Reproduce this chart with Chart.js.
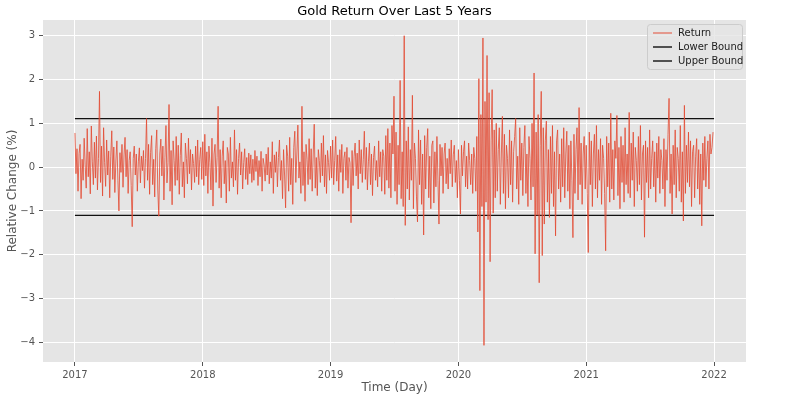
<!DOCTYPE html>
<html lang="en">
<head>
  <meta charset="UTF-8">
  <title>Gold Return Over Last 5 Years</title>
  <style>
    body { margin: 0; background: #fff; }
  </style>
  <script src="https://cdn.jsdelivr.net/npm/chart.js"></script>
</head>
<body>
  <canvas id="goldChart" width="789" height="400"></canvas>

  <script>
    // Daily relative change (%), one array per year
    const years = [2017, 2018, 2019, 2020, 2021];

    const returns2017 = [
      0.78, -0.15, 0.42, -0.55, 0.31, 0.52, -0.72, 0.18, -0.3, 0.66, 0.05, -0.48, 0.88, -0.22, 0.35, -0.61, 0.94, 0.12, -0.4, 0.57, -0.25, 0.71, -0.52, 0.2, 1.73,
      -0.35, 0.48, -0.66, 0.9, 0.1, -0.44, 0.62, -0.18, 0.37, -0.7, 0.25, 0.83, -0.28, 0.46, -0.58, 0.14, 0.6, -0.3, -1.0, 0.33, -0.12, 0.52, -0.46, 0.28, 0.68,
      -0.22, 0.4, -0.6, 0.15, 0.35, -0.42, -1.36, 0.2, 0.48, -0.18, 0.3, -0.55, 0.12, 0.44, -0.36, 0.25, -0.08, 0.38, -0.48, 0.2, 1.11, -0.3, 0.52, -0.62, 0.34,
      0.72, -0.4, 0.18, -0.68, 0.42, 0.85, -0.5, -1.12, 0.3, 0.64, -0.2, 0.48, -0.75, 0.22, 0.95, -0.36, 0.1, 1.43, -0.55, 0.38, -0.86, 0.6, 0.15, -0.42, 0.7,
      -0.3, 0.5, -0.62, 0.26, 0.78, -0.45, 0.12, -0.7, 0.55, 0.2, -0.38, 0.66, -0.15, 0.4, -0.52, 0.3, 0.08, -0.35, 0.48, -0.22, 0.62, -0.4, 0.18, 0.45, -0.28
    ];
    const returns2018 = [
      0.58, -0.42, 0.75, -0.2, 0.35, -0.6, 0.48, 0.1, -0.52, 0.66, -0.89, 0.3, 0.52, -0.35, 0.22, 1.39, -0.48, 0.4, -0.7, 0.25, 0.6, -0.38, 0.15, -0.82, 0.45,
      0.3, -0.55, 0.68, -0.25, 0.12, -0.45, 0.85, -0.3, 0.4, -0.62, 0.2, 0.55, -0.18, 0.35, -0.5, 0.1, 0.42, -0.28, 0.22, -0.4, 0.32, -0.15, 0.28, -0.35, 0.18,
      -0.3, 0.38, -0.1, 0.25, -0.42, 0.15, -0.22, 0.36, -0.55, 0.2, 0.05, -0.32, 0.3, -0.18, 0.45, -0.38, 0.12, -0.25, 0.58, -0.6, 0.28, -0.12, 0.35, -0.45, 0.22,
      0.62, -0.3, 0.15, -0.72, 0.4, -0.18, -0.93, 0.5, 0.25, -0.55, 0.68, -0.4, 0.2, -0.85, 0.45, 0.82, -0.35, 0.3, 0.96, -0.25, 0.12, -0.6, 1.39, -0.42, 0.35,
      -0.78, 0.52, 0.18, -0.4, 0.65, -0.28, 0.42, -0.55, 0.3, 0.98, -0.48, 0.22, -0.65, 0.4, 0.15, -0.35, 0.55, -0.2, 0.72, -0.45, 0.28, -0.6, 0.38, 0.1, -0.3
    ];
    const returns2019 = [
      0.48, -0.25, 0.62, -0.4, 0.15, 0.7, -0.32, 0.28, -0.55, 0.4, -0.12, 0.52, -0.6, 0.2, 0.35, -0.3, 0.45, -0.48, 0.22, 0.1, -1.27, 0.38, -0.42, 0.25, 0.55,
      -0.2, 0.32, -0.5, 0.62, -0.15, 0.4, -0.35, 0.18, 0.82, -0.28, 0.45, -0.52, 0.12, 0.55, -0.4, 0.3, -0.65, 0.22, 0.48, -0.3, 0.15, -0.45, 0.6, -0.22, 0.35,
      -0.55, 0.4, 0.25, -0.62, 0.72, -0.3, 0.88, -0.48, 0.55, -0.7, 0.95, 0.3, 1.62, -0.55, 0.8, -0.85, 0.5, -0.4, 1.98, -0.72, 0.35, -0.9, 3.0, -1.33, 0.6,
      -0.5, 0.92, -0.75, 0.4, -0.3, 1.64, -0.95, 0.55, 0.2, -0.68, -1.25, 0.85, -0.4, 0.62, -0.85, 0.3, -1.55, 0.72, -0.5, 0.45, 0.88, -0.7, 0.25, -0.95, 0.5,
      0.6, -0.82, 0.35, -0.45, 0.7, -0.3, -1.3, 0.52, -0.2, 0.45, -0.6, 0.3, 0.55, -0.38, 0.2, -0.5, 0.42, -0.15, 0.62, -0.45, 0.28, 0.5, -0.35, 0.15, -0.7
    ];
    const returns2020 = [
      0.4, -0.3, -1.07, 0.5, -0.2, 0.35, 0.6, -0.45, 0.25, -0.5, 0.55, 0.15, -0.4, 0.3, -0.6, 0.45, 0.2, -0.55, 0.7, -1.48, 2.02, -2.82, 1.2, -0.9, 2.95,
      -4.07, 1.5, -0.8, 2.55, -1.2, 1.7, -2.16, 0.6, 1.77, -1.05, 0.85, -0.7, 1.0, -0.55, 0.4, 0.9, -0.85, 0.3, 1.16, -0.6, 0.75, -0.95, 0.5, 0.2, -0.7,
      0.85, -0.4, 0.6, -0.8, 0.35, 0.7, 1.11, -0.5, 0.25, -0.85, 0.9, -0.3, 0.55, -0.65, 0.45, 0.95, -0.6, 0.3, -0.9, 0.7, 0.2, -0.75, 1.0, -0.45, 2.15,
      -1.98, 0.8, -1.1, 1.2, -2.64, 0.5, 1.73, -2.02, 0.9, -1.3, 0.6, 1.05, -0.8, 0.4, -1.15, 0.7, -0.6, 0.95, -0.9, 0.35, -1.57, 0.6, 0.85, -0.5, 0.3,
      -0.8, 0.65, -0.45, 0.9, -0.7, 0.3, 0.82, -0.55, 0.5, -0.95, 0.6, -0.3, -1.61, 0.75, -0.6, 0.4, 0.9, -0.75, 1.36, -0.4, 0.55, -0.85, 0.3, 0.7, -0.5
    ];
    const returns2021 = [
      0.5, -0.6, -1.95, 0.8, -0.4, 0.6, -0.9, 0.3, 0.75, -0.5, 0.95, -0.7, 0.4, -0.3, 0.65, -0.85, 0.5, 0.2, -0.6, -1.91, 0.7, -0.45, 0.55, -0.8, 1.23,
      -0.5, 0.4, -0.75, 0.6, 0.2, 1.18, -0.65, 0.45, -0.95, 0.7, -0.35, 0.5, -0.8, 0.9, -0.4, 0.3, -0.6, 1.25, -0.7, 0.55, -0.3, 0.8, -0.9, 0.45, 0.15,
      -0.55, 0.7, -0.4, 0.95, -0.75, 0.3, 0.5, -1.6, 0.6, -0.35, 0.45, -0.7, 0.85, -0.5, 0.2, 0.6, -0.45, 0.35, -0.8, 0.55, -0.25, 0.7, -0.6, 0.4, 0.15,
      -0.5, 0.65, -0.9, 0.4, -0.3, 0.75, 1.57, -0.6, 0.3, -1.07, 0.5, -0.4, 0.85, -0.7, 0.45, 0.2, -0.55, 0.95, -0.8, 0.35, -1.23, 1.41, -0.6, 0.5, -0.35,
      0.8, -0.45, 0.6, -0.9, 0.35, 0.5, -0.7, 0.25, 0.65, -0.5, 0.4, -0.85, 0.3, -1.34, 0.55, -0.3, 0.7, -0.45, 0.2, 0.6, -0.5, 0.75, 0.3, 0.45, 0.8
    ];

    const upperBound = 1.11;
    const lowerBound = -1.1;
    const xTicks = [2017, 2018, 2019, 2020, 2021, 2022];
    const yTicks = [-4, -3, -2, -1, 0, 1, 2, 3];

    // spread each year's days evenly over that year
    const yearly = [returns2017, returns2018, returns2019, returns2020, returns2021];
    const returnPoints = [];
    yearly.forEach((arr, k) => {
      arr.forEach((v, i) => returnPoints.push({ x: years[k] + i / arr.length, y: v }));
    });
    const firstDay = years[0];
    const lastDay = years[years.length - 1] + 1;

    const FONT = "'DejaVu Sans', sans-serif";
    const TITLE = 'Gold Return Over Last 5 Years';

    // grey panel behind the plot, like the ggplot style
    const panelBg = {
      id: 'panelBg',
      beforeDraw(chart) {
        const { ctx, chartArea: a } = chart;
        ctx.save();
        ctx.fillStyle = '#E5E5E5';
        ctx.fillRect(a.left, a.top, a.right - a.left, a.bottom - a.top);
        ctx.restore();
      }
    };

    // title centred over the plot area, and legend box in its upper right corner
    const cornerLegend = {
      id: 'cornerLegend',
      afterDraw(chart) {
        const { ctx, chartArea: a } = chart;
        ctx.save();
        ctx.fillStyle = '#000';
        ctx.font = '13px ' + FONT;
        ctx.textAlign = 'center';
        ctx.textBaseline = 'alphabetic';
        ctx.fillText(TITLE, (a.left + a.right) / 2, a.top - 5);

        const w = 95, h = 45;
        const x0 = a.right - 4 - w, y0 = a.top + 4;
        ctx.fillStyle = 'rgba(229,229,229,0.8)';
        ctx.strokeStyle = '#CCCCCC';
        ctx.lineWidth = 1;
        ctx.beginPath();
        ctx.roundRect(x0 + 0.5, y0 + 0.5, w, h, 3);
        ctx.fill();
        ctx.stroke();
        ctx.font = '10px ' + FONT;
        ctx.textAlign = 'left';
        ctx.textBaseline = 'middle';
        chart.data.datasets.forEach((ds, i) => {
          const yy = y0 + 9 + i * 14;
          ctx.strokeStyle = ds.legendColor || ds.borderColor;
          ctx.lineWidth = 1.4;
          ctx.beginPath();
          ctx.moveTo(x0 + 6, yy);
          ctx.lineTo(x0 + 25, yy);
          ctx.stroke();
          ctx.fillStyle = '#222';
          ctx.fillText(ds.label, x0 + 31, yy);
        });
        ctx.restore();
      }
    };

    const ctx = document.getElementById('goldChart').getContext('2d');
    const goldChart = new Chart(ctx, {
      type: 'line',
      data: {
        datasets: [{
          label: 'Return',
          data: returnPoints,
          borderColor: 'rgba(226, 74, 51, 0.9)',
          legendColor: 'rgba(226, 74, 51, 0.7)',
          borderWidth: 0.9,
          pointRadius: 0,
          tension: 0
        }, {
          label: 'Lower Bound',
          data: [{ x: firstDay, y: lowerBound }, { x: lastDay, y: lowerBound }],
          borderColor: '#111',
          borderWidth: 1.3,
          pointRadius: 0
        }, {
          label: 'Upper Bound',
          data: [{ x: firstDay, y: upperBound }, { x: lastDay, y: upperBound }],
          borderColor: '#111',
          borderWidth: 1.3,
          pointRadius: 0
        }]
      },
      options: {
        responsive: false,
        animation: false,
        devicePixelRatio: 1,
        layout: { padding: { top: 20, right: 43, bottom: 0, left: 0 } },
        plugins: {
          legend: { display: false },
          tooltip: { enabled: false },
          title: { display: false }
        },
        scales: {
          x: {
            type: 'linear',
            min: 2016.75,
            max: 2022.25,
            afterBuildTicks: s => { s.ticks = xTicks.map(v => ({ value: v })); },
            afterFit: s => { s.height = 38; },
            grid: { color: '#FFFFFF', lineWidth: 1, tickColor: '#555', tickLength: 4 },
            border: { display: false },
            ticks: {
              color: '#555',
              padding: 3,
              maxRotation: 0,
              font: { family: FONT, size: 10 },
              callback: v => String(v)
            },
            title: {
              display: true,
              text: 'Time (Day)',
              color: '#555',
              font: { family: FONT, size: 12 },
              padding: { top: 0, bottom: 5 }
            }
          },
          y: {
            min: -4.45,
            max: 3.36,
            afterBuildTicks: s => { s.ticks = yTicks.map(v => ({ value: v })); },
            afterFit: s => { s.width = 43; },
            grid: { color: '#FFFFFF', lineWidth: 1, tickColor: '#555', tickLength: 4 },
            border: { display: false },
            ticks: {
              color: '#555',
              padding: 4,
              font: { family: FONT, size: 10 },
              callback: v => (v < 0 ? '\u2212' + Math.abs(v) : String(v))
            },
            title: {
              display: true,
              text: 'Relative Change (%)',
              color: '#555',
              font: { family: FONT, size: 12 },
              padding: { top: 6, bottom: 0 }
            }
          }
        }
      },
      plugins: [panelBg, cornerLegend]
    });
  </script>
</body>
</html>
